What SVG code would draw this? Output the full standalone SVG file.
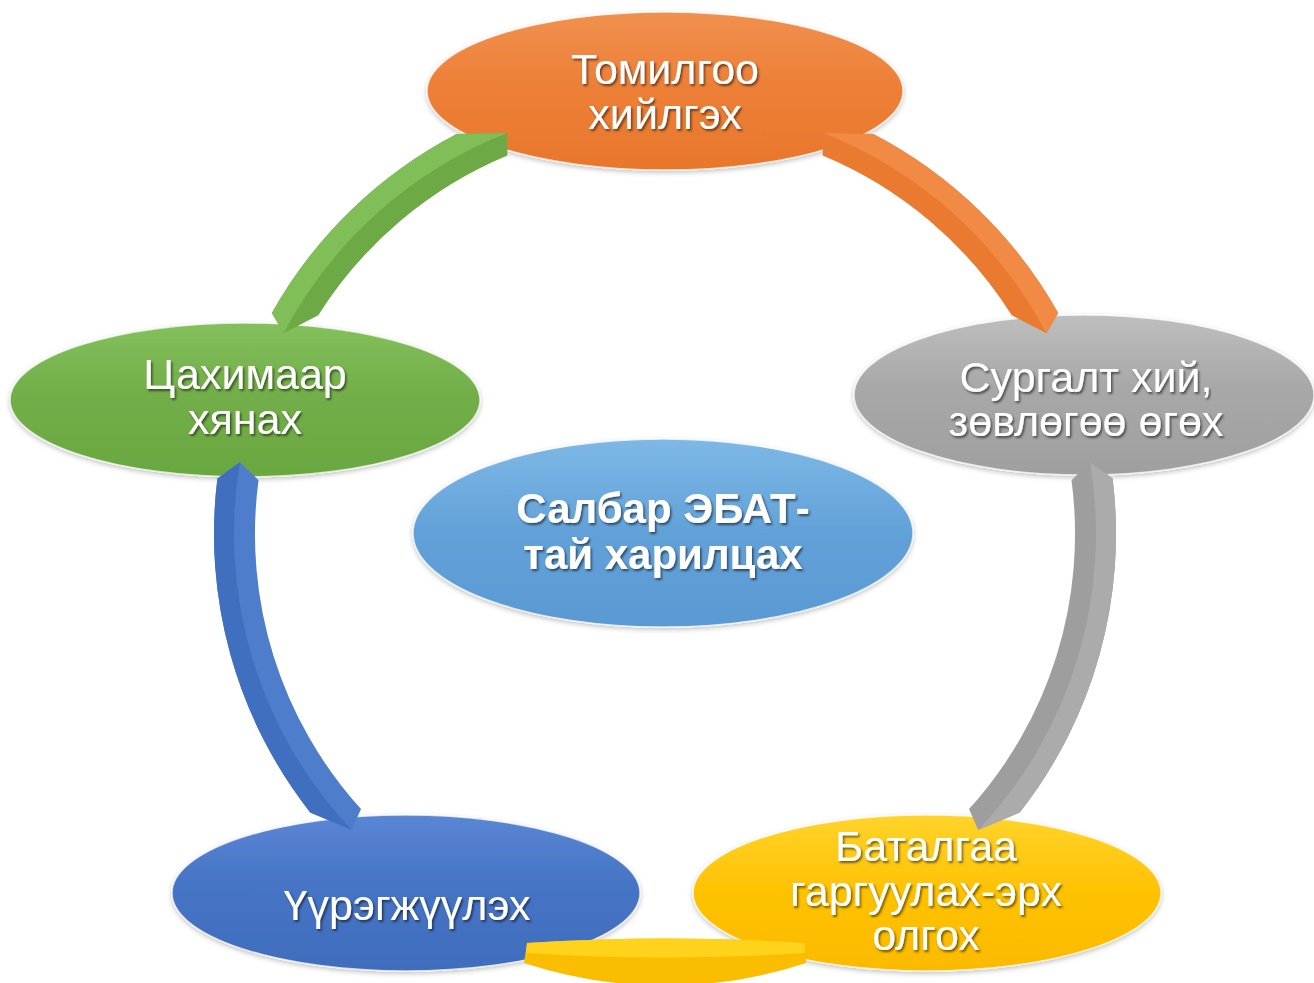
<svg xmlns="http://www.w3.org/2000/svg" width="1314" height="983" viewBox="0 0 1314 983">
<style>
.lbl{font-family:"Liberation Sans",Arial,"Noto Sans",sans-serif;font-size:43px;fill:#ffffff;text-anchor:middle;filter:url(#tsh)}
.ctr{font-weight:bold;font-size:42px}
.node ellipse{filter:url(#esh);stroke:#ffffff;stroke-opacity:0.7;stroke-width:1.5}
</style>
<defs>
<filter id="tsh" x="-10%" y="-20%" width="120%" height="150%">
<feDropShadow dx="1.5" dy="2" stdDeviation="1.2" flood-color="#000000" flood-opacity="0.55"/>
</filter>
<filter id="esh" x="-5%" y="-10%" width="110%" height="125%">
<feDropShadow dx="0" dy="2" stdDeviation="2.5" flood-color="#000000" flood-opacity="0.25"/>
</filter>
<linearGradient id="gOr" x1="0" y1="0" x2="0" y2="1"><stop offset="0" stop-color="#F1904E"/><stop offset="0.45" stop-color="#ED8038"/><stop offset="1" stop-color="#E8772B"/></linearGradient>
<linearGradient id="gGr" x1="0" y1="0" x2="0" y2="1"><stop offset="0" stop-color="#84C05C"/><stop offset="0.45" stop-color="#72AF49"/><stop offset="1" stop-color="#6AA740"/></linearGradient>
<linearGradient id="gGy" x1="0" y1="0" x2="0" y2="1"><stop offset="0" stop-color="#BEBEBE"/><stop offset="0.45" stop-color="#A8A8A8"/><stop offset="1" stop-color="#9F9F9F"/></linearGradient>
<linearGradient id="gBl" x1="0" y1="0" x2="0" y2="1"><stop offset="0" stop-color="#5A86D4"/><stop offset="0.45" stop-color="#4674C5"/><stop offset="1" stop-color="#416DBD"/></linearGradient>
<linearGradient id="gYe" x1="0" y1="0" x2="0" y2="1"><stop offset="0" stop-color="#FFD42C"/><stop offset="0.45" stop-color="#FFC306"/><stop offset="1" stop-color="#FBBA00"/></linearGradient>
<linearGradient id="gCt" x1="0" y1="0" x2="0" y2="1"><stop offset="0" stop-color="#7DB8E6"/><stop offset="0.5" stop-color="#62A1D8"/><stop offset="1" stop-color="#5A99D3"/></linearGradient>
</defs>

<g id="node-center" class="node">
<ellipse cx="663" cy="533" rx="250" ry="94" fill="url(#gCt)"/>
<text class="lbl ctr" x="663" y="523">Салбар ЭБАТ-</text>
<text class="lbl ctr" x="663" y="569">тай харилцах</text>
</g>

<g id="node-top" class="node">
<ellipse cx="665" cy="91" rx="238" ry="79" fill="url(#gOr)"/>
<text class="lbl" x="665" y="84">Томилгоо</text>
<text class="lbl" x="665" y="129">хийлгэх</text>
</g>

<g id="node-right" class="node">
<ellipse cx="1084" cy="395" rx="230" ry="80" fill="url(#gGy)"/>
<text class="lbl" x="1086" y="392">Сургалт хий,</text>
<text class="lbl" x="1086" y="436">зөвлөгөө өгөх</text>
</g>

<g id="node-bottom-right" class="node">
<ellipse cx="927" cy="893" rx="234" ry="78" fill="url(#gYe)"/>
<text class="lbl" x="926" y="861">Баталгаа</text>
<text class="lbl" x="926" y="906">гаргуулах-эрх</text>
<text class="lbl" x="926" y="950">олгох</text>
</g>

<g id="node-bottom-left" class="node">
<ellipse cx="406" cy="893" rx="234" ry="78" fill="url(#gBl)"/>
<text class="lbl" x="407" y="920">Үүрэгжүүлэх</text>
</g>

<g id="node-left" class="node">
<ellipse cx="245" cy="400" rx="235" ry="77" fill="url(#gGr)"/>
<text class="lbl" x="245" y="389">Цахимаар</text>
<text class="lbl" x="245" y="434">хянах</text>
</g>

<g id="connectors">
<g id="c-top-right">
<path d="M823.0,133.0 L873.3,134.0 A451,451 0 0 1 1058.1,312.9 L1046.4,333.3 L1011.7,315.2 A410,410 0 0 0 822.6,155.5 Z" fill="#E97A30"/>
<path d="M823.0,133.0 L873.3,134.0 A451,451 0 0 1 1058.1,312.9 L1046.4,333.3 A431,431 0 0 0 823.0,133.0 Z" fill="#F08A44"/>
</g>
<g id="c-right-bottom">
<path d="M1090.0,462.3 L1112.6,478.6 A451,451 0 0 1 1019.8,812.4 L978.2,830.1 L969.0,809.1 A410,410 0 0 0 1071.5,480.2 Z" fill="#9E9E9E"/>
<path d="M1090.0,462.3 L1112.6,478.6 A451,451 0 0 1 1019.8,812.4 L978.2,830.1 A431,431 0 0 0 1090.0,462.3 Z" fill="#ABABAB"/>
</g>
<g id="c-bottom">
<path d="M527,943 Q665,934 805,943 L806,963 A451,451 0 0 1 524,963 Z" fill="#FABD00"/>
<path d="M527,943 Q665,934 805,943 L805,953 Q665,962 526,953 Z" fill="#FFD21C"/>
</g>
<g id="c-bottom-left">
<path d="M240.0,462.3 L217.4,478.6 A451,451 0 0 0 310.2,812.4 L351.8,830.1 L361.0,809.1 A410,410 0 0 1 258.5,480.2 Z" fill="#4E7DCB"/>
<path d="M240.0,462.3 L217.4,478.6 A451,451 0 0 0 310.2,812.4 L351.8,830.1 A431,431 0 0 1 240.0,462.3 Z" fill="#416FBF"/>
</g>
<g id="c-left-top">
<path d="M283.6,333.3 L271.9,312.9 A451,451 0 0 1 456.7,134.0 L507.0,133.0 L507.4,155.5 A410,410 0 0 0 318.3,315.2 Z" fill="#6DA944"/>
<path d="M283.6,333.3 L271.9,312.9 A451,451 0 0 1 456.7,134.0 L507.0,133.0 A431,431 0 0 0 283.6,333.3 Z" fill="#80BE57"/>
</g>
</g>
</svg>
